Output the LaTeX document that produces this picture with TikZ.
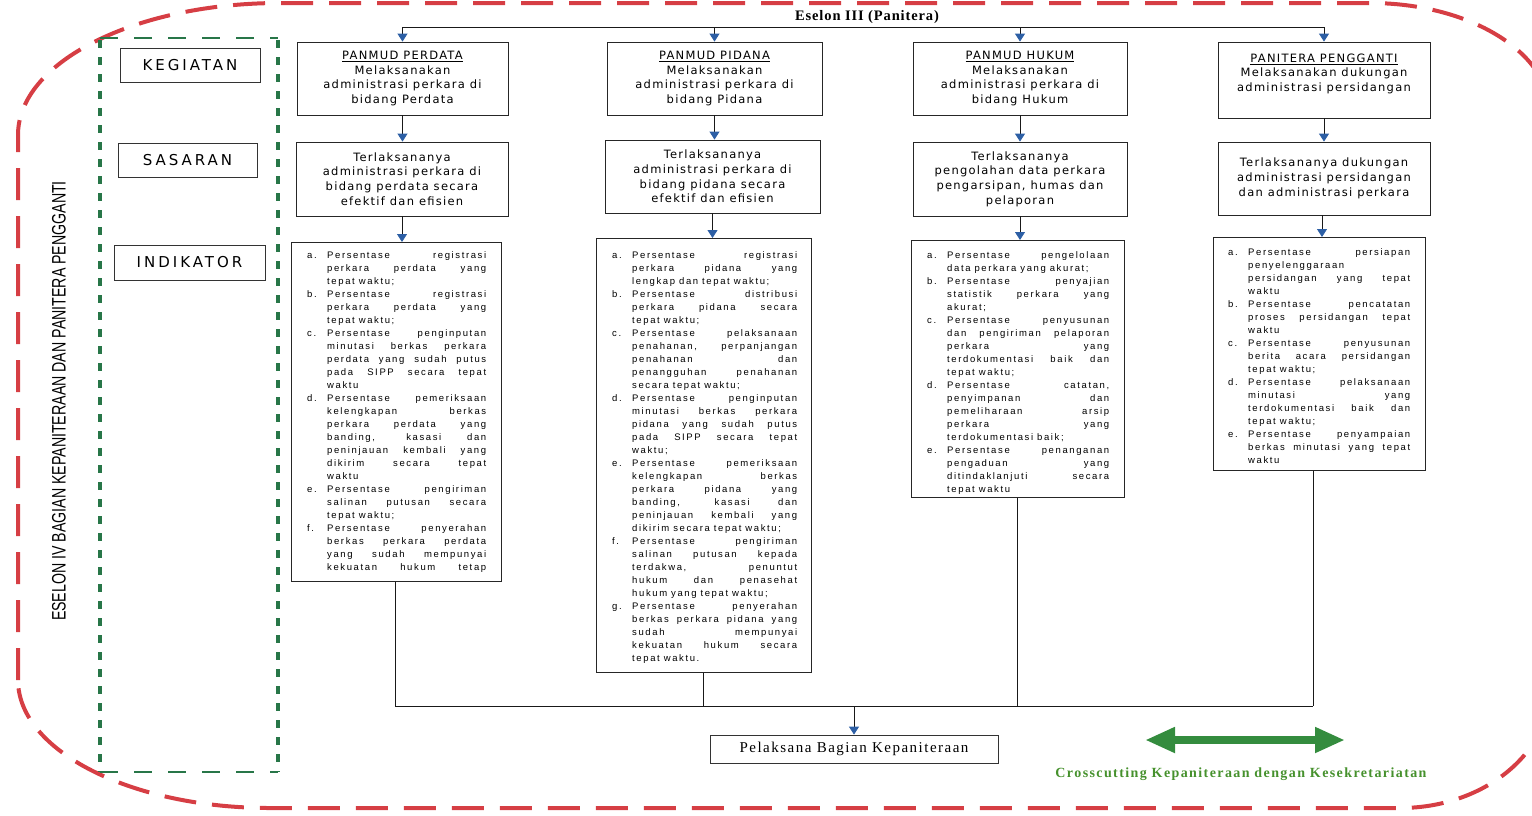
\documentclass[tikz,border=0pt]{standalone}
\usepackage{fontspec}
\usepackage{graphicx}
\usetikzlibrary{arrows.meta}
\setmainfont{Liberation Serif}
\newfontfamily\boxfont[LetterSpace=11]{DejaVu Sans}
\newfontfamily\labfont[LetterSpace=20]{DejaVu Sans}
\newfontfamily\indfont[LetterSpace=17]{Liberation Sans}
\newfontfamily\sidefont{Liberation Sans}
\newfontfamily\headfont[LetterSpace=6]{Liberation Serif}
\newfontfamily\footfont[LetterSpace=10]{Liberation Serif}

\definecolor{framered}{RGB}{214,62,68}
\definecolor{framegreen}{RGB}{40,118,72}
\definecolor{tipblue}{RGB}{45,95,165}
\definecolor{arrowgreen}{RGB}{52,140,62}
\definecolor{capgreen}{RGB}{70,145,45}

% indicator lines: label column + justified / left-aligned text
\newlength\tw
\newcommand\indlab[1]{\makebox[20pt][l]{#1}}
\newcommand\jbox[1]{\makebox[\tw][s]{\spaceskip=.35em plus 1fill\relax #1}}
\newcommand\lbox[1]{\makebox[\tw][l]{\spaceskip=.42em\relax #1}}
\newcommand\indA[2]{\indlab{#1}\jbox{#2}\\}
\newcommand\indJ[1]{\indlab{}\jbox{#1}\\}
\newcommand\indL[1]{\indlab{}\lbox{#1}\\}

\tikzset{
  cell/.style={draw=black!85, line width=0.8pt, inner sep=0pt, align=center,
    font={\boxfont\fontsize{11.5}{14.7}\selectfont}},
  tag/.style={draw=black!80, line width=0.8pt, inner sep=0pt,
    font={\labfont\fontsize{15}{16}\selectfont}},
  indbox/.style={draw=black!85, line width=0.8pt, inner sep=0pt, anchor=north west},
  indtext/.style={anchor=north west, inner sep=0pt, align=left, text width=190pt,
    font={\indfont\fontsize{9.5}{13}\selectfont}},
  link/.style={line width=0.9pt, black!90, -{Triangle[width=10pt,length=8pt,color=tipblue]}},
  wire/.style={line width=0.9pt, black!90},
  outer/.style={draw=framered, line width=4pt, dash pattern=on 32pt off 16pt},
  gside/.style={draw=framegreen, line width=4pt, dash pattern=on 8pt off 9pt},
  gtop/.style={draw=framegreen, line width=1.8pt, dash pattern=on 18pt off 16pt},
}

\begin{document}
\begin{tikzpicture}[x=1pt,y=-1pt]
\useasboundingbox (0,0) rectangle (1532,815);
\clip (0,0) rectangle (1532,815);

% outer red frame (right side runs past the page edge)
\draw[outer] (18,680) -- (18,135)
  .. controls (18,62.1) and (135.3,3) .. (280,3)
  -- (1370,3)
  .. controls (1469.4,3) and (1550,52.2) .. (1550,113)
  -- (1550,688)
  .. controls (1550,754.3) and (1482.8,808) .. (1400,808)
  -- (270,808)
  .. controls (130.8,808) and (18,750.7) .. (18,680) -- cycle;

% green frame around the row labels
\draw[gside] (100,40) -- (100,772);
\draw[gside] (278,40) -- (278,772);
\draw[gtop] (100,38) -- (278,38);
\draw[gtop] (100,772) -- (278,772);

% side title
\node[rotate=90] (side) at (59,401)
  {\scalebox{0.727}[1]{\sidefont\fontsize{19.5}{20}\selectfont ESELON IV BAGIAN KEPANITERAAN DAN PANITERA PENGGANTI}};

% row labels
\node[tag, minimum width=140pt, minimum height=34pt] (lk) at (190,65) {KEGIATAN};
\node[tag, minimum width=139pt, minimum height=34pt] (ls) at (187.5,160) {SASARAN};
\node[tag, minimum width=151pt, minimum height=35pt] (li) at (189.5,262.5) {INDIKATOR};

% head
\node[font={\headfont\bfseries\fontsize{14.5}{16}\selectfont}] (esl) at (867,17) {Eselon III (Panitera)};
\coordinate (topbus) at (866,27);

% kegiatan row
\node[cell, minimum width=211pt, minimum height=73pt] (k1) at (402.5,78.5)
  {\underline{PANMUD PERDATA}\\Melaksanakan\\administrasi perkara di\\bidang Perdata};
\node[cell, minimum width=215pt, minimum height=73pt] (k2) at (714.5,78.5)
  {\underline{PANMUD PIDANA}\\Melaksanakan\\administrasi perkara di\\bidang Pidana};
\node[cell, minimum width=214pt, minimum height=73pt] (k3) at (1020,78.5)
  {\underline{PANMUD HUKUM}\\Melaksanakan\\administrasi perkara di\\bidang Hukum};
\node[cell, minimum width=212pt, minimum height=76pt] (k4) at (1324,80)
  {\underline{PANITERA PENGGANTI}\\Melaksanakan dukungan\\administrasi persidangan\\\mbox{}};

% sasaran row
\node[cell, minimum width=212pt, minimum height=74pt] (s1) at (402,179)
  {Terlaksananya\\administrasi perkara di\\bidang perdata secara\\efektif dan efisien};
\node[cell, minimum width=215pt, minimum height=73pt] (s2) at (712.5,176.5)
  {Terlaksananya\\administrasi perkara di\\bidang pidana secara\\efektif dan efisien};
\node[cell, minimum width=214pt, minimum height=74pt] (s3) at (1020,179)
  {Terlaksananya\\pengolahan data perkara\\pengarsipan, humas dan\\pelaporan};
\node[cell, minimum width=212pt, minimum height=73pt] (s4) at (1324,178.5)
  {Terlaksananya dukungan\\administrasi persidangan\\dan administrasi perkara};

% indikator row: frames
\node[indbox, minimum width=210pt, minimum height=339pt] (i1) at (291,242) {};
\node[indbox, minimum width=215pt, minimum height=434pt] (i2) at (596,238) {};
\node[indbox, minimum width=213pt, minimum height=257pt] (i3) at (911,240) {};
\node[indbox, minimum width=212pt, minimum height=233pt] (i4) at (1213,237) {};

% indikator row: texts
\node[indtext] (t1) at ([xshift=16pt,yshift=-9pt]i1.north west) {\setlength\tw{159pt}%
\indA{a.}{Persentase registrasi}
\indJ{perkara perdata yang}
\indL{tepat waktu;}
\indA{b.}{Persentase registrasi}
\indJ{perkara perdata yang}
\indL{tepat waktu;}
\indA{c.}{Persentase penginputan}
\indJ{minutasi berkas perkara}
\indJ{perdata yang sudah putus}
\indJ{pada SIPP secara tepat}
\indL{waktu}
\indA{d.}{Persentase pemeriksaan}
\indJ{kelengkapan berkas}
\indJ{perkara perdata yang}
\indJ{banding, kasasi dan}
\indJ{peninjauan kembali yang}
\indJ{dikirim secara tepat}
\indL{waktu}
\indA{e.}{Persentase pengiriman}
\indJ{salinan putusan secara}
\indL{tepat waktu;}
\indA{f.}{Persentase penyerahan}
\indJ{berkas perkara perdata}
\indJ{yang sudah mempunyai}
\indlab{}\jbox{kekuatan hukum tetap}};

\node[indtext] (t2) at ([xshift=16pt,yshift=-13pt]i2.north west) {\setlength\tw{165pt}%
\indA{a.}{Persentase registrasi}
\indJ{perkara pidana yang}
\indL{lengkap dan tepat waktu;}
\indA{b.}{Persentase distribusi}
\indJ{perkara pidana secara}
\indL{tepat waktu;}
\indA{c.}{Persentase pelaksanaan}
\indJ{penahanan, perpanjangan}
\indJ{penahanan dan}
\indJ{penangguhan penahanan}
\indL{secara tepat waktu;}
\indA{d.}{Persentase penginputan}
\indJ{minutasi berkas perkara}
\indJ{pidana yang sudah putus}
\indJ{pada SIPP secara tepat}
\indL{waktu;}
\indA{e.}{Persentase pemeriksaan}
\indJ{kelengkapan berkas}
\indJ{perkara pidana yang}
\indJ{banding, kasasi dan}
\indJ{peninjauan kembali yang}
\indL{dikirim secara tepat waktu;}
\indA{f.}{Persentase pengiriman}
\indJ{salinan putusan kepada}
\indJ{terdakwa, penuntut}
\indJ{hukum dan penasehat}
\indL{hukum yang tepat waktu;}
\indA{g.}{Persentase penyerahan}
\indJ{berkas perkara pidana yang}
\indJ{sudah mempunyai}
\indJ{kekuatan hukum secara}
\indlab{}\lbox{tepat waktu.}};

\node[indtext] (t3) at ([xshift=16pt,yshift=-11pt]i3.north west) {\setlength\tw{162pt}%
\indA{a.}{Persentase pengelolaan}
\indL{data perkara yang akurat;}
\indA{b.}{Persentase penyajian}
\indJ{statistik perkara yang}
\indL{akurat;}
\indA{c.}{Persentase penyusunan}
\indJ{dan pengiriman pelaporan}
\indJ{perkara yang}
\indJ{terdokumentasi baik dan}
\indL{tepat waktu;}
\indA{d.}{Persentase catatan,}
\indJ{penyimpanan dan}
\indJ{pemeliharaan arsip}
\indJ{perkara yang}
\indL{terdokumentasi baik;}
\indA{e.}{Persentase penanganan}
\indJ{pengaduan yang}
\indJ{ditindaklanjuti secara}
\indlab{}\lbox{tepat waktu}};

\node[indtext] (t4) at ([xshift=15pt,yshift=-11pt]i4.north west) {\setlength\tw{162pt}%
\indA{a.}{Persentase persiapan}
\indL{penyelenggaraan}
\indJ{persidangan yang tepat}
\indL{waktu}
\indA{b.}{Persentase pencatatan}
\indJ{proses persidangan tepat}
\indL{waktu}
\indA{c.}{Persentase penyusunan}
\indJ{berita acara persidangan}
\indL{tepat waktu;}
\indA{d.}{Persentase pelaksanaan}
\indJ{minutasi yang}
\indJ{terdokumentasi baik dan}
\indL{tepat waktu;}
\indA{e.}{Persentase penyampaian}
\indJ{berkas minutasi yang tepat}
\indlab{}\lbox{waktu}};

% executor box
\node[draw=black!80, line width=0.8pt, inner sep=0pt, minimum width=288pt, minimum height=28pt,
  font={\footfont\fontsize{15}{16}\selectfont}] (pel) at (854,749) {Pelaksana Bagian Kepaniteraan};

% connectors: head bus to kegiatan
\draw[wire] (k1.north |- topbus) -- (k4.north |- topbus);
\foreach \k in {k1,k2,k3,k4} \draw[link] (\k.north |- topbus) -- (\k.north);

% kegiatan -> sasaran -> indikator
\draw[link] (k1.south) -- (k1.south |- s1.north);
\draw[link] (k2.south) -- (k2.south |- s2.north);
\draw[link] (k3.south) -- (k3.south |- s3.north);
\draw[link] (k4.south) -- (k4.south |- s4.north);
\draw[link] (s1.south) -- (s1.south |- i1.north);
\draw[link] (s2.south) -- (s2.south |- i2.north);
\draw[link] (s3.south) -- (s3.south |- i3.north);
\draw[link] ([xshift=-2pt]s4.south) -- ([xshift=-2pt]s4.south |- i4.north);

% indikator -> bottom bus -> executor
\coordinate (busL) at (395,706);
\coordinate (busR) at (1313,706);
\draw[wire] (busL) -- (busR);
\draw[wire] (i1.south -| busL) -- (busL);
\draw[wire] (i2.south) -- (i2.south |- busL);
\draw[wire] (i3.south) -- (i3.south |- busL);
\draw[wire] (i4.south -| busR) -- (busR);
\draw[link] (pel.north |- busL) -- (pel.north);

% crosscutting arrow and caption
\coordinate (xl) at (1145,740);
\coordinate (xr) at (1345,740);
\draw[arrowgreen, line width=8pt,
  {Triangle[width=24pt,length=30pt]}-{Triangle[width=24pt,length=30pt]}] (xl) -- (xr);
\node[text=capgreen, font={\footfont\bfseries\fontsize{14}{16}\selectfont}] (cap) at (1241,774)
  {Crosscutting Kepaniteraan dengan Kesekretariatan};
\end{tikzpicture}
\end{document}
